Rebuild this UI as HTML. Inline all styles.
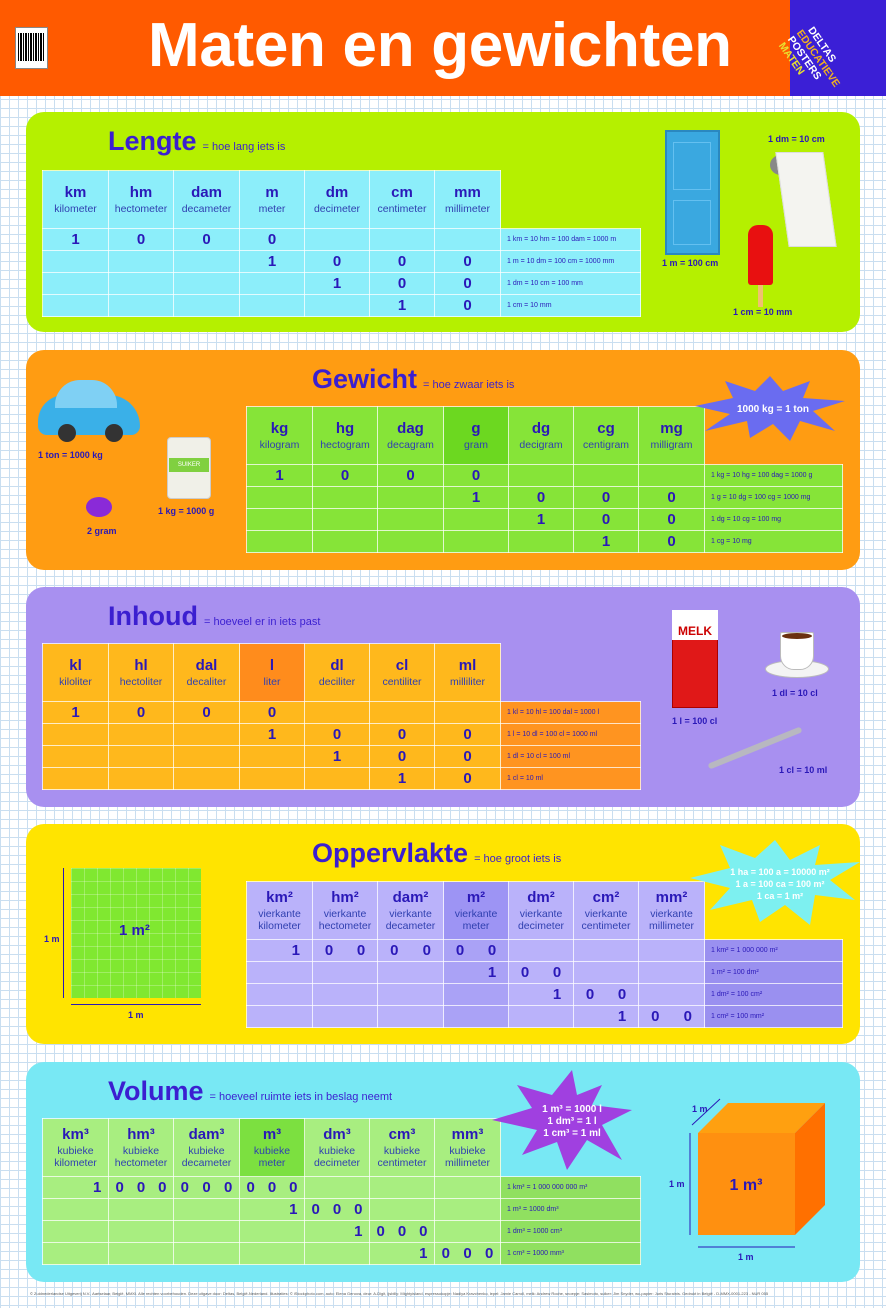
<!DOCTYPE html>
<html><head><meta charset="utf-8">
<style>
*{margin:0;padding:0;box-sizing:border-box}
body{width:886px;height:1308px;position:relative;overflow:hidden;font-family:"Liberation Sans",sans-serif;
background-color:#fff;
background-image:linear-gradient(#c9def0 1px,transparent 1px),linear-gradient(90deg,#c9def0 1px,transparent 1px);
background-size:9px 9px}
.abs{position:absolute}
.hdr{left:0;top:0;width:886px;height:96px;background:#ff5a00}
.logo{left:790px;top:0;width:96px;height:96px;background:#3b1fd6}
.title{left:148px;top:10px;font-size:62px;font-weight:bold;color:#fff;letter-spacing:-0.3px}
.panel{left:26px;width:834px;height:220px;border-radius:18px}
h2{position:absolute;font-size:27px;font-weight:bold;color:#3b1fd0;white-space:nowrap}
h2 small{font-size:11px;font-weight:normal;color:#3b1fd0;margin-left:6px}
table.t{position:absolute;border-collapse:collapse;table-layout:fixed}
table.t td{background:var(--c);border:1px solid rgba(255,255,255,.75);text-align:center;padding:0;height:22px;font-weight:bold;font-size:15px;color:#2a18b8}
table.t tr.h td{height:58px;font-weight:bold;font-size:15px;vertical-align:middle;line-height:15px}
table.t tr.h td span{display:block;font-weight:normal;font-size:10.5px;color:#3040b0;line-height:12px;margin-top:3px}
table.t tr.h td.n{background:transparent!important;border:none}
table.t td.note{font-size:7px;font-weight:normal;text-align:left;padding-left:6px;color:#2a18b8}
td i{display:inline-block;font-style:normal}
.d2 i{width:50%}.d3 i{width:33.3%}
.lbl{font-size:9px;font-weight:bold;color:#2a18b8;white-space:nowrap}
</style></head><body>

<div class="abs hdr"></div>
<div class="abs" style="left:15px;top:27px;width:33px;height:42px;background:#fff;border:1px solid #888"></div>
<div class="abs" style="left:18px;top:33px;width:27px;height:28px;background:repeating-linear-gradient(90deg,#000 0 1px,#fff 1px 2px,#000 2px 4px,#fff 4px 5px)"></div>
<div class="abs title">Maten en gewichten</div>
<div class="abs logo"></div>
<div class="abs" style="left:812px;top:22px;width:90px;transform:rotate(55deg);transform-origin:0 0;font-size:10.5px;font-weight:bold;line-height:11px">
<div style="color:#fff;padding-left:4px">DELTAS</div>
<div style="color:#f0b020">EDUCATIEVE</div>
<div style="color:#fff">POSTERS</div>
<div style="color:#e8e030">MATEN</div>
</div>

<!-- Panel 1 Lengte -->
<div class="abs panel" style="top:112px;background:#b5f000"></div>
<h2 style="left:108px;top:126px">Lengte<small>= hoe lang iets is</small></h2>
<table class="t" style="left:42px;top:170px;width:598px;--c:#8ceefa">
<colgroup><col style="width:66px"><col style="width:65px"><col style="width:66px"><col style="width:65px"><col style="width:65px"><col style="width:65px"><col style="width:66px"><col style="width:140px"></colgroup>
<tr class="h"><td>km<span>kilometer</span></td><td>hm<span>hectometer</span></td><td>dam<span>decameter</span></td><td>m<span>meter</span></td><td>dm<span>decimeter</span></td><td>cm<span>centimeter</span></td><td>mm<span>millimeter</span></td><td class="n"></td></tr>
<tr><td>1</td><td>0</td><td>0</td><td>0</td><td></td><td></td><td></td><td class="note">1 km = 10 hm = 100 dam = 1000 m</td></tr>
<tr><td></td><td></td><td></td><td>1</td><td>0</td><td>0</td><td>0</td><td class="note">1 m = 10 dm = 100 cm = 1000 mm</td></tr>
<tr><td></td><td></td><td></td><td></td><td>1</td><td>0</td><td>0</td><td class="note">1 dm = 10 cm = 100 mm</td></tr>
<tr><td></td><td></td><td></td><td></td><td></td><td>1</td><td>0</td><td class="note">1 cm = 10 mm</td></tr>
</table>
<div class="abs" style="left:665px;top:130px;width:55px;height:125px;background:#3aa8e0;border:2px solid #2a88c0"></div>
<div class="abs" style="left:673px;top:142px;width:38px;height:48px;border:1px solid #64c0f0"></div>
<div class="abs" style="left:673px;top:200px;width:38px;height:45px;border:1px solid #64c0f0"></div>
<div class="abs lbl" style="left:662px;top:258px">1 m = 100 cm</div>
<div class="abs lbl" style="left:768px;top:134px">1 dm = 10 cm</div>
<div class="abs" style="left:770px;top:155px;width:22px;height:20px;background:#888;border-radius:50%"></div>
<div class="abs" style="left:782px;top:152px;width:48px;height:95px;background:#f4f4f0;transform:skewX(8deg);border:1px solid #ddd"></div>
<div class="abs" style="left:748px;top:225px;width:25px;height:60px;background:#e81010;border-radius:10px 10px 3px 3px"></div>
<div class="abs" style="left:758px;top:285px;width:5px;height:22px;background:#f0c070"></div>
<div class="abs lbl" style="left:733px;top:307px">1 cm = 10 mm</div>

<!-- Panel 2 Gewicht -->
<div class="abs panel" style="top:350px;background:#ff9c12"></div>
<h2 style="left:312px;top:364px">Gewicht<small>= hoe zwaar iets is</small></h2>
<table class="t" style="left:246px;top:406px;width:596px;--c:#86e438">
<colgroup><col style="width:66px"><col style="width:65px"><col style="width:66px"><col style="width:65px"><col style="width:65px"><col style="width:65px"><col style="width:66px"><col style="width:138px"></colgroup>
<tr class="h"><td>kg<span>kilogram</span></td><td>hg<span>hectogram</span></td><td>dag<span>decagram</span></td><td style="--c:#6cd820">g<span>gram</span></td><td>dg<span>decigram</span></td><td>cg<span>centigram</span></td><td>mg<span>milligram</span></td><td class="n"></td></tr>
<tr><td>1</td><td>0</td><td>0</td><td>0</td><td></td><td></td><td></td><td class="note">1 kg = 10 hg = 100 dag = 1000 g</td></tr>
<tr><td></td><td></td><td></td><td>1</td><td>0</td><td>0</td><td>0</td><td class="note">1 g = 10 dg = 100 cg = 1000 mg</td></tr>
<tr><td></td><td></td><td></td><td></td><td>1</td><td>0</td><td>0</td><td class="note">1 dg = 10 cg = 100 mg</td></tr>
<tr><td></td><td></td><td></td><td></td><td></td><td>1</td><td>0</td><td class="note">1 cg = 10 mg</td></tr>
</table>
<svg class="abs" style="left:695px;top:376px" width="150" height="65"><polygon points="75,0 88,15 115,5 108,22 150,25 118,35 140,55 105,45 95,65 78,48 55,62 52,45 10,55 35,38 0,30 38,22 30,5 60,15" fill="#6a6cf0"/><text x="78" y="36" fill="#fff" font-size="10" font-weight="bold" text-anchor="middle" font-family="Liberation Sans">1000 kg = 1 ton</text></svg>
<div class="abs" style="left:38px;top:395px;width:102px;height:40px;background:#3ab0e8;border-radius:30px 35px 10px 10px"></div>
<div class="abs" style="left:55px;top:380px;width:62px;height:28px;background:#7fd0f4;border-radius:25px 25px 0 0"></div>
<div class="abs" style="left:58px;top:424px;width:18px;height:18px;background:#333;border-radius:50%"></div>
<div class="abs" style="left:105px;top:424px;width:18px;height:18px;background:#333;border-radius:50%"></div>
<div class="abs lbl" style="left:38px;top:450px">1 ton = 1000 kg</div>
<div class="abs" style="left:167px;top:437px;width:44px;height:62px;background:#f0f0e8;border-radius:4px;border:1px solid #ccc"></div>
<div class="abs" style="left:169px;top:458px;width:40px;height:14px;background:#80d040;font-size:6px;color:#fff;text-align:center;line-height:14px">SUIKER</div>
<div class="abs lbl" style="left:158px;top:506px">1 kg = 1000 g</div>
<div class="abs" style="left:86px;top:497px;width:26px;height:20px;background:#8a2ad8;border-radius:50%"></div>
<div class="abs lbl" style="left:87px;top:526px">2 gram</div>

<!-- Panel 3 Inhoud -->
<div class="abs panel" style="top:587px;background:#a890f0"></div>
<h2 style="left:108px;top:601px">Inhoud<small>= hoeveel er in iets past</small></h2>
<table class="t" style="left:42px;top:643px;width:598px;--c:#ffb81c">
<colgroup><col style="width:66px"><col style="width:65px"><col style="width:66px"><col style="width:65px"><col style="width:65px"><col style="width:65px"><col style="width:66px"><col style="width:140px"></colgroup>
<tr class="h"><td>kl<span>kiloliter</span></td><td>hl<span>hectoliter</span></td><td>dal<span>decaliter</span></td><td style="--c:#ff8c1c">l<span>liter</span></td><td>dl<span>deciliter</span></td><td>cl<span>centiliter</span></td><td>ml<span>milliliter</span></td><td class="n"></td></tr>
<tr><td>1</td><td>0</td><td>0</td><td>0</td><td></td><td></td><td></td><td class="note" style="--c:#ff9420">1 kl = 10 hl = 100 dal = 1000 l</td></tr>
<tr><td></td><td></td><td></td><td>1</td><td>0</td><td>0</td><td>0</td><td class="note" style="--c:#ff9420">1 l = 10 dl = 100 cl = 1000 ml</td></tr>
<tr><td></td><td></td><td></td><td></td><td>1</td><td>0</td><td>0</td><td class="note" style="--c:#ff9420">1 dl = 10 cl = 100 ml</td></tr>
<tr><td></td><td></td><td></td><td></td><td></td><td>1</td><td>0</td><td class="note" style="--c:#ff9420">1 cl = 10 ml</td></tr>
</table>
<div class="abs" style="left:672px;top:622px;width:46px;height:86px;background:#e01818;border:1px solid #a00"></div>
<div class="abs" style="left:672px;top:610px;width:46px;height:30px;background:#fff;font-size:12px;font-weight:bold;color:#c00;text-align:center;line-height:42px">MELK</div>
<div class="abs lbl" style="left:672px;top:716px">1 l = 100 cl</div>
<div class="abs" style="left:765px;top:660px;width:64px;height:18px;background:#f4f4f4;border-radius:50%;border:1px solid #bbb"></div>
<div class="abs" style="left:780px;top:632px;width:34px;height:38px;background:#fff;border-radius:2px 2px 14px 14px;border:1px solid #bbb"></div>
<div class="abs" style="left:782px;top:633px;width:30px;height:6px;background:#6a3010;border-radius:50%"></div>
<div class="abs lbl" style="left:772px;top:688px">1 dl = 10 cl</div>
<div class="abs" style="left:705px;top:745px;width:100px;height:6px;background:#b8b8c0;transform:rotate(-22deg);border-radius:3px"></div>
<div class="abs lbl" style="left:779px;top:765px">1 cl = 10 ml</div>

<!-- Panel 4 Oppervlakte -->
<div class="abs panel" style="top:824px;background:#ffe400"></div>
<h2 style="left:312px;top:838px">Oppervlakte<small>= hoe groot iets is</small></h2>
<table class="t" style="left:246px;top:881px;width:596px;--c:#bab2fa">
<colgroup><col style="width:66px"><col style="width:65px"><col style="width:66px"><col style="width:65px"><col style="width:65px"><col style="width:65px"><col style="width:66px"><col style="width:138px"></colgroup>
<tr class="h"><td>km²<span>vierkante<br>kilometer</span></td><td>hm²<span>vierkante<br>hectometer</span></td><td>dam²<span>vierkante<br>decameter</span></td><td style="--c:#9d94f4">m²<span>vierkante<br>meter</span></td><td>dm²<span>vierkante<br>decimeter</span></td><td>cm²<span>vierkante<br>centimeter</span></td><td>mm²<span>vierkante<br>millimeter</span></td><td class="n"></td></tr>
<tr><td class="d2"><i></i><i>1</i></td><td class="d2"><i>0</i><i>0</i></td><td class="d2"><i>0</i><i>0</i></td><td class="d2" style="--c:#aaa2f6"><i>0</i><i>0</i></td><td></td><td></td><td></td><td class="note" style="--c:#9a90f0">1 km² = 1 000 000 m²</td></tr>
<tr><td></td><td></td><td></td><td class="d2" style="--c:#aaa2f6"><i></i><i>1</i></td><td class="d2"><i>0</i><i>0</i></td><td></td><td></td><td class="note" style="--c:#9a90f0">1 m² = 100 dm²</td></tr>
<tr><td></td><td></td><td></td><td style="--c:#aaa2f6"></td><td class="d2"><i></i><i>1</i></td><td class="d2"><i>0</i><i>0</i></td><td></td><td class="note" style="--c:#9a90f0">1 dm² = 100 cm²</td></tr>
<tr><td></td><td></td><td></td><td style="--c:#aaa2f6"></td><td></td><td class="d2"><i></i><i>1</i></td><td class="d2"><i>0</i><i>0</i></td><td class="note" style="--c:#9a90f0">1 cm² = 100 mm²</td></tr>
</table>
<svg class="abs" style="left:690px;top:840px" width="170" height="85"><polygon points="85,0 100,20 130,5 125,25 170,22 140,40 165,60 125,55 120,85 95,65 70,82 62,60 20,70 40,48 0,38 40,28 30,5 65,18" fill="#7df0f0"/><text fill="#fff" font-size="9" font-weight="bold" text-anchor="middle" font-family="Liberation Sans"><tspan x="90" y="35">1 ha = 100 a = 10000 m²</tspan><tspan x="90" y="47">1 a = 100 ca = 100 m²</tspan><tspan x="90" y="59">1 ca = 1 m²</tspan></text></svg>
<div class="abs" style="left:71px;top:868px;width:130px;height:130px;background:#80e830;background-image:linear-gradient(rgba(255,255,255,.25) 1px,transparent 1px),linear-gradient(90deg,rgba(255,255,255,.25) 1px,transparent 1px);background-size:13px 13px"></div>
<div class="abs" style="left:119px;top:922px;font-size:15px;font-weight:bold;color:#2a18b8">1 m²</div>
<div class="abs" style="left:63px;top:868px;width:1px;height:130px;background:#2a18b8"></div>
<div class="abs" style="left:71px;top:1004px;width:130px;height:1px;background:#2a18b8"></div>
<div class="abs lbl" style="left:44px;top:934px">1 m</div>
<div class="abs lbl" style="left:128px;top:1010px">1 m</div>

<!-- Panel 5 Volume -->
<div class="abs panel" style="top:1062px;background:#78e8f4"></div>
<h2 style="left:108px;top:1076px">Volume<small>= hoeveel ruimte iets in beslag neemt</small></h2>
<table class="t" style="left:42px;top:1118px;width:598px;--c:#a8ee80">
<colgroup><col style="width:66px"><col style="width:65px"><col style="width:66px"><col style="width:65px"><col style="width:65px"><col style="width:65px"><col style="width:66px"><col style="width:140px"></colgroup>
<tr class="h"><td>km³<span>kubieke<br>kilometer</span></td><td>hm³<span>kubieke<br>hectometer</span></td><td>dam³<span>kubieke<br>decameter</span></td><td style="--c:#7ce040">m³<span>kubieke<br>meter</span></td><td>dm³<span>kubieke<br>decimeter</span></td><td>cm³<span>kubieke<br>centimeter</span></td><td>mm³<span>kubieke<br>millimeter</span></td><td class="n"></td></tr>
<tr><td class="d3"><i></i><i></i><i>1</i></td><td class="d3"><i>0</i><i>0</i><i>0</i></td><td class="d3"><i>0</i><i>0</i><i>0</i></td><td class="d3"><i>0</i><i>0</i><i>0</i></td><td></td><td></td><td></td><td class="note" style="--c:#90e060">1 km³ = 1 000 000 000 m³</td></tr>
<tr><td></td><td></td><td></td><td class="d3"><i></i><i></i><i>1</i></td><td class="d3"><i>0</i><i>0</i><i>0</i></td><td></td><td></td><td class="note" style="--c:#90e060">1 m³ = 1000 dm³</td></tr>
<tr><td></td><td></td><td></td><td></td><td class="d3"><i></i><i></i><i>1</i></td><td class="d3"><i>0</i><i>0</i><i>0</i></td><td></td><td class="note" style="--c:#90e060">1 dm³ = 1000 cm³</td></tr>
<tr><td></td><td></td><td></td><td></td><td></td><td class="d3"><i></i><i></i><i>1</i></td><td class="d3"><i>0</i><i>0</i><i>0</i></td><td class="note" style="--c:#90e060">1 cm³ = 1000 mm³</td></tr>
</table>
<svg class="abs" style="left:492px;top:1070px" width="150" height="100"><polygon points="80,0 85,25 110,15 100,35 140,40 110,55 130,90 95,70 75,100 65,72 30,85 45,60 0,50 40,38 25,15 60,25" fill="#a040e0"/><text fill="#fff" font-size="10" font-weight="bold" text-anchor="middle" font-family="Liberation Sans"><tspan x="80" y="42">1 m³ = 1000 l</tspan><tspan x="80" y="54">1 dm³ = 1 l</tspan><tspan x="80" y="66">1 cm³ = 1 ml</tspan></text></svg>
<svg class="abs" style="left:665px;top:1095px" width="195" height="165">
<polygon points="33,38 63,8 160,8 130,38" fill="#ffa010"/>
<polygon points="130,38 160,8 160,110 130,140" fill="#ff7000"/>
<rect x="33" y="38" width="97" height="102" fill="#ff9010"/>
<line x1="25" y1="38" x2="25" y2="140" stroke="#2a18b8"/>
<line x1="33" y1="152" x2="130" y2="152" stroke="#2a18b8"/>
<line x1="27" y1="30" x2="55" y2="4" stroke="#2a18b8"/>
<text x="81" y="95" font-size="16" font-weight="bold" fill="#2a18b8" text-anchor="middle" font-family="Liberation Sans">1 m³</text>
<text x="4" y="92" font-size="9" font-weight="bold" fill="#2a18b8" font-family="Liberation Sans">1 m</text>
<text x="73" y="165" font-size="9" font-weight="bold" fill="#2a18b8" font-family="Liberation Sans">1 m</text>
<text x="27" y="17" font-size="9" font-weight="bold" fill="#2a18b8" font-family="Liberation Sans">1 m</text>
</svg>

<div class="abs" style="left:30px;top:1291px;font-size:4px;color:#555;white-space:nowrap">© Zuidnederlandse Uitgeverij N.V., Aartselaar, België, MMXI. Alle rechten voorbehouden. Deze uitgave door: Deltas, België-Nederland. Illustraties: © iStockphoto.com, auto: Elena Genova, deur: A-Digit, ijsbilly: Mightyisland, espressokopje: Nadiya Kravchenko, lepel: Jamie Carroll, melk: Andrew Roche, snoepje: Sasimoto, suiker: Jim Snyder, wc-papier: Juris Sturainis. Gedrukt in België - D-MMX-0001-223 - NUR 055</div>
</body></html>
